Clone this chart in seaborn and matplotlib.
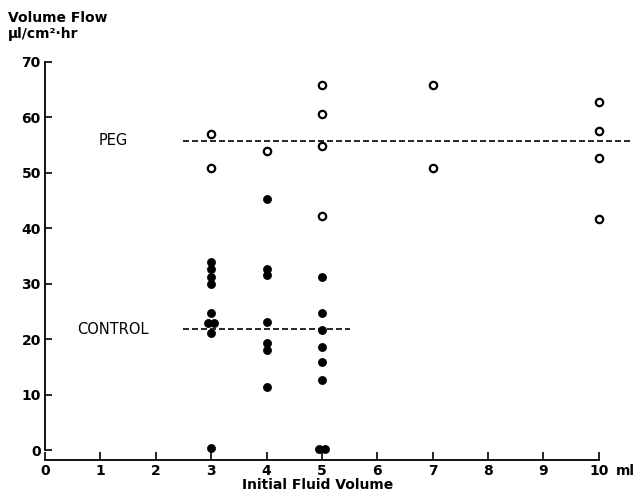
import numpy as np
import pandas as pd
import seaborn as sns
import matplotlib.pyplot as plt

# values
peg_x = [3, 3, 4, 5, 5, 5, 5, 7, 7, 10, 10, 10, 10]
peg_y = [56.9, 50.9, 53.8, 65.8, 60.5, 54.7, 42.2, 65.8, 50.8, 62.8, 57.4, 52.6, 41.7]

ctrl_x = [3, 3, 3, 3, 3, 2.95, 3.05, 3, 3,
          4, 4, 4, 4, 4, 4, 4,
          5, 5, 5, 5, 5, 5, 4.95, 5.05]
ctrl_y = [33.9, 32.6, 31.2, 30.0, 24.6, 22.9, 22.9, 21.0, 0.3,
          45.2, 32.7, 31.5, 23.1, 19.3, 18.0, 11.3,
          31.1, 24.7, 21.6, 18.6, 15.9, 12.6, 0.1, 0.1]

peg_mean = 55.7
ctrl_mean = 21.8
peg_span = [2.5, 10.6]
ctrl_span = [2.5, 5.5]

x_ticks = [0, 1, 2, 3, 4, 5, 6, 7, 8, 9, 10]
y_ticks = [0, 10, 20, 30, 40, 50, 60, 70]

df_peg = pd.DataFrame({"volume": peg_x, "flow": peg_y})
df_ctrl = pd.DataFrame({"volume": ctrl_x, "flow": ctrl_y})

sns.set_style("ticks")
plt.rcParams["font.family"] = ["DejaVu Sans"]
plt.rcParams["font.weight"] = "bold"
plt.rcParams["text.color"] = "black"
plt.rcParams["xtick.color"] = "black"
plt.rcParams["ytick.color"] = "black"
plt.rcParams["axes.edgecolor"] = "black"

fig = plt.figure(figsize=(6.33, 4.93), dpi=100)
ax = fig.add_axes([45 / 633, 33 / 493, 587 / 633, (460 - 56) / 493])

sns.scatterplot(data=df_peg, x="volume", y="flow", ax=ax, s=28,
                facecolor="white", edgecolor="black", linewidth=1.6, zorder=3)
sns.scatterplot(data=df_ctrl, x="volume", y="flow", ax=ax, s=34,
                color="black", edgecolor="black", linewidth=0.5, zorder=3)

dash = (0, (3.6, 1.8))
ax.plot(peg_span, [peg_mean, peg_mean], color="black", lw=1.2, ls=dash, zorder=2)
ax.plot(ctrl_span, [ctrl_mean, ctrl_mean], color="black", lw=1.2, ls=dash, zorder=2)

ax.text(1.23, peg_mean, "PEG", ha="center", va="center", fontsize=10.5, fontweight="normal")
ax.text(1.23, ctrl_mean, "CONTROL", ha="center", va="center", fontsize=10.5, fontweight="normal")

ax.set_xlim(0, 10.6)
ax.set_ylim(-1.8, 71)
ax.set_xticks(x_ticks)
ax.set_yticks(y_ticks)
ax.set_xticklabels([str(t) for t in x_ticks], fontsize=10, fontweight="bold")
ax.set_yticklabels([str(t) for t in y_ticks], fontsize=10, fontweight="bold")
ax.tick_params(axis="x", direction="in", length=6, width=1.2, pad=3)
ax.tick_params(axis="y", direction="in", length=5, width=1.2, pad=3)
ax.annotate("ml", xy=(10.3, 0), xycoords=ax.get_xaxis_transform(),
            xytext=(0, -3), textcoords="offset points",
            ha="left", va="top", fontsize=10, fontweight="bold", annotation_clip=False)

sns.despine(ax=ax)
ax.spines["left"].set_bounds(0, 70)
ax.spines["bottom"].set_bounds(0, 10)
ax.spines["left"].set_linewidth(1.3)
ax.spines["bottom"].set_linewidth(1.3)
ax.set_xlabel("")
ax.set_ylabel("")

fig.text(8 / 633, 1 - 18 / 493, "Volume Flow", ha="left", va="center", fontsize=10, fontweight="bold")
fig.text(8 / 633, 1 - 34 / 493, "\u03bcl/cm\u00b2\u00b7hr", ha="left", va="center", fontsize=10, fontweight="bold")
fig.text(318 / 633, 1 - 485 / 493, "Initial Fluid Volume", ha="center", va="center",
         fontsize=10, fontweight="bold")

fig.savefig("out.png", dpi=100)
